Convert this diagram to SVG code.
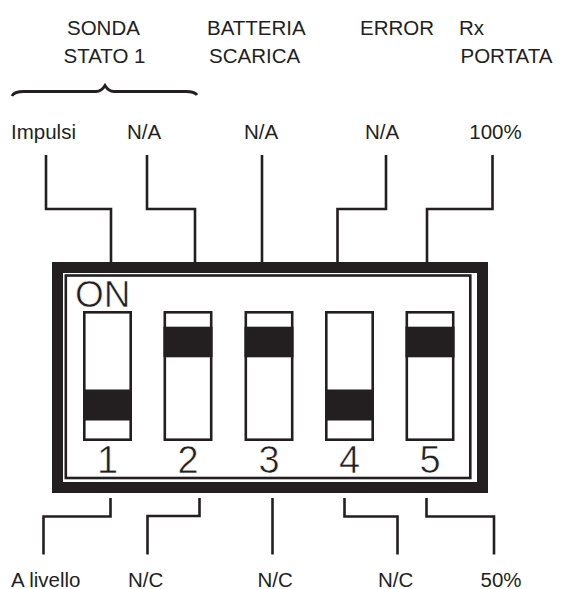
<svg xmlns="http://www.w3.org/2000/svg" width="565" height="589" viewBox="0 0 565 589">
<style>
text{font-family:"Liberation Sans",Arial,sans-serif;fill:#231f20}
.lbl{font-size:20.5px}
.big{font-size:37px;stroke:#fff;stroke-width:0.6;paint-order:normal}
.num{font-size:38px;text-anchor:middle;stroke:#fff;stroke-width:0.6;paint-order:normal}
.mid{text-anchor:middle}
.wire{fill:none;stroke:#231f20;stroke-width:2.6;stroke-linejoin:miter}
.sw{fill:#fff;stroke:#231f20;stroke-width:2.6}
.lev{fill:#231f20}
</style>
<rect width="565" height="589" fill="#fff"/>
<g id="headings">
<text class="lbl" x="67" y="34.5">SONDA</text>
<text class="lbl" x="207" y="34.5">BATTERIA</text>
<text class="lbl" x="360" y="34.5">ERROR</text>
<text class="lbl" x="459" y="34.5">Rx</text>
<text class="lbl" x="63.5" y="63">STATO 1</text>
<text class="lbl" x="209" y="63">SCARICA</text>
<text class="lbl" x="460.5" y="63">PORTATA</text>
<path d="M12,96 Q14,91.5 24,91.5 L96,91.5 Q101.5,91.5 105,85.5 Q108.5,91.5 114,91.5 L186,91.5 Q194.5,91.5 197,95" fill="none" stroke="#231f20" stroke-width="2.8"/>
</g>
<g id="top-labels">
<text class="lbl" x="11" y="138.5">Impulsi</text>
<text class="lbl mid" x="144" y="138.5">N/A</text>
<text class="lbl mid" x="261" y="138.5">N/A</text>
<text class="lbl mid" x="382" y="138.5">N/A</text>
<text class="lbl mid" x="495.5" y="138.5">100%</text>
</g>
<g id="dip-switch">
<rect x="57.5" y="267.5" width="425" height="220" fill="#fff" stroke="#231f20" stroke-width="11"/>
<rect x="65.8" y="275.5" width="404.5" height="202.5" fill="none" stroke="#231f20" stroke-width="2.6"/>
<text class="big" x="75" y="306.5">ON</text>
</g>
<g id="switch1">
<rect class="sw" x="84.3" y="312.3" width="46.4" height="127.4"/>
<rect class="lev" x="83" y="389.5" width="49" height="31"/>
<text class="num" x="107.5" y="473">1</text>
</g>
<g id="switch2">
<rect class="sw" x="164.8" y="312.3" width="46.4" height="127.4"/>
<rect class="lev" x="163.5" y="326.7" width="49" height="30.6"/>
<text class="num" x="188" y="473">2</text>
</g>
<g id="switch3">
<rect class="sw" x="245.8" y="312.3" width="46.4" height="127.4"/>
<rect class="lev" x="244.5" y="326.7" width="49" height="30.6"/>
<text class="num" x="269" y="473">3</text>
</g>
<g id="switch4">
<rect class="sw" x="326.3" y="312.3" width="46.4" height="127.4"/>
<rect class="lev" x="325" y="389.5" width="49" height="31"/>
<text class="num" x="349.5" y="473">4</text>
</g>
<g id="switch5">
<rect class="sw" x="406.8" y="312.3" width="46.4" height="127.4"/>
<rect class="lev" x="405.5" y="326.7" width="49" height="30.6"/>
<text class="num" x="430" y="473">5</text>
</g>
<g id="connectors">
<path class="wire" d="M46,155 V209 H111 V262"/>
<path class="wire" d="M147,155 V209 H195 V262"/>
<path class="wire" d="M262,155 V262"/>
<path class="wire" d="M386,155 V209 H337.5 V262"/>
<path class="wire" d="M492.5,155 V209 H427 V262"/>
<path class="wire" d="M110.5,498 V516.5 H43.5 V554.5"/>
<path class="wire" d="M199.5,498 V516 H147.5 V554.5"/>
<path class="wire" d="M272.5,498 V554.5"/>
<path class="wire" d="M344.5,498 V516.5 H397.5 V554.5"/>
<path class="wire" d="M426.5,498 V516.5 H494 V554.5"/>
</g>
<g id="bottom-labels">
<text class="lbl" x="11" y="586.5">A livello</text>
<text class="lbl mid" x="145.7" y="586.5">N/C</text>
<text class="lbl mid" x="275.2" y="586.5">N/C</text>
<text class="lbl mid" x="395.7" y="586.5">N/C</text>
<text class="lbl mid" x="501" y="586.5">50%</text>
</g>
</svg>
